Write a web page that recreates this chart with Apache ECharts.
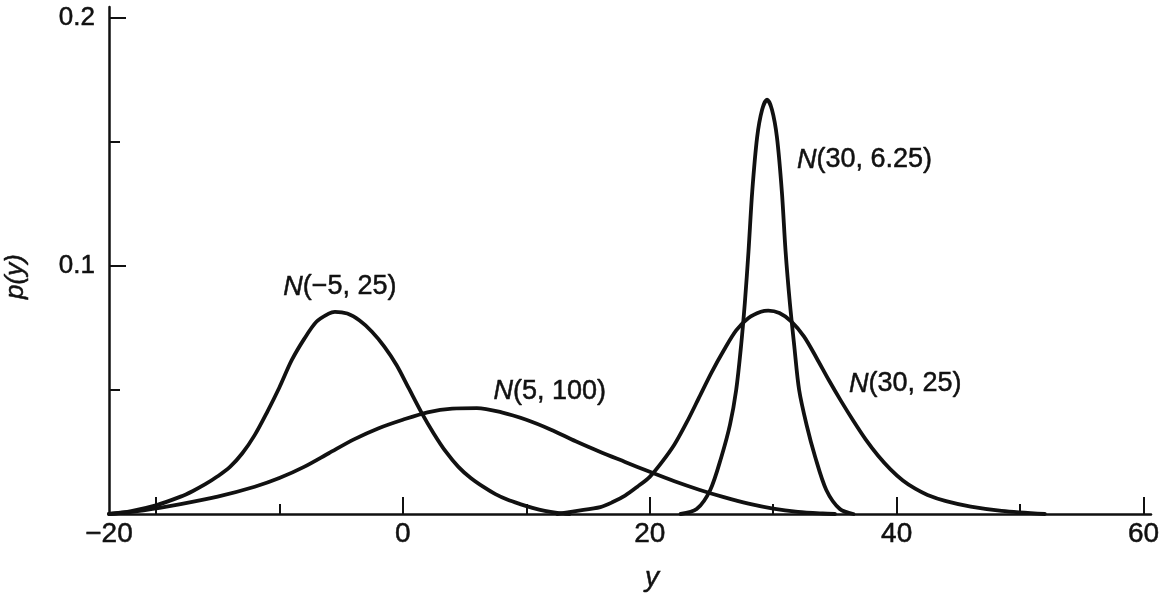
<!DOCTYPE html>
<html>
<head>
<meta charset="utf-8">
<script src="https://cdn.jsdelivr.net/npm/echarts@6/dist/echarts.min.js"></script>
<style>
  html, body { margin: 0; padding: 0; background: #fff; }
  #main { width: 1169px; height: 598px; }
</style>
</head>
<body>
<div id="main"></div>
<script type="text/javascript">
// values, [y, p(y)]
var curveA = [ // N(-5, 25)
  [-23.8, 0], [-22, 0.0012], [-20, 0.0035], [-18, 0.007], [-17, 0.0093], [-16, 0.012],
  [-15, 0.0152], [-14, 0.019], [-13, 0.0245], [-12, 0.0318], [-11, 0.041], [-10, 0.051],
  [-9, 0.062], [-8, 0.0705], [-7, 0.0775], [-6, 0.0808], [-5.5, 0.0815], [-4.5, 0.0808],
  [-3.5, 0.078], [-2.5, 0.0735], [-1.5, 0.0675], [-0.5, 0.060], [0.5, 0.0505], [1.5, 0.041],
  [2.5, 0.0325], [3.5, 0.025], [4.5, 0.019], [5.5, 0.0145], [6.5, 0.011], [7.5, 0.008],
  [8.5, 0.0057], [9.5, 0.004], [10.5, 0.0025], [11.5, 0.0013], [12.5, 0.0005], [13.5, 0]
];
var curveB = [ // N(5, 100)
  [-23.8, 0], [-21, 0.0015], [-18, 0.004], [-15, 0.007], [-12, 0.011], [-10, 0.0145],
  [-8, 0.019], [-6, 0.0245], [-4, 0.030], [-2, 0.0345], [0, 0.038], [2, 0.041],
  [4, 0.0425], [6, 0.0427], [8, 0.041], [10, 0.038], [12, 0.034], [14, 0.0293],
  [16, 0.025], [18, 0.021], [20, 0.017], [22, 0.0132], [24, 0.0098], [26, 0.0068],
  [28, 0.0042], [30, 0.0022], [32, 0.0009], [34, 0.0002], [35, 0]
];
var curveC = [ // N(30, 6.25)
  [22.5, 0], [23.8, 0.002], [24.9, 0.0097], [25.8, 0.023], [26.5, 0.036], [27.0, 0.050],
  [27.4, 0.068], [27.7, 0.085], [28.0, 0.106], [28.3, 0.130], [28.7, 0.152], [29.1, 0.163],
  [29.5, 0.167], [29.9, 0.163], [30.3, 0.152], [30.7, 0.130], [31.0, 0.106], [31.35, 0.085],
  [31.7, 0.068], [32.1, 0.050], [32.7, 0.036], [33.4, 0.023], [34.3, 0.0097], [35.4, 0.002], [36.5, 0]
];
var curveD = [ // N(30, 25)
  [12.5, 0], [14, 0.0012], [16, 0.0028], [17, 0.0048], [18, 0.0074], [19, 0.011],
  [20, 0.015], [21, 0.021], [22, 0.028], [23, 0.037], [24, 0.047], [25, 0.057],
  [26, 0.066], [27, 0.074], [28, 0.079], [29, 0.0815], [29.6, 0.082], [30.5, 0.081],
  [31.5, 0.0775], [32.5, 0.0715], [33.5, 0.063], [34.5, 0.054], [35.5, 0.0455], [36.5, 0.0375],
  [37.5, 0.030], [38.5, 0.0235], [39.5, 0.018], [40.5, 0.0135], [41.5, 0.0102], [42.5, 0.0077],
  [44, 0.0052], [46, 0.003], [48.5, 0.0013], [52, 0]
];

var curveNames = ['{n|N}(\u22125, 25)', '{n|N}(5, 100)', '{n|N}(30, 6.25)', '{n|N}(30, 25)'];
var labelAt = [[-5.1, 0.0915], [11.9, 0.0492], [37.4, 0.1427], [40.7, 0.0524]];

var xMajorTicks = [-20, 0, 20, 40, 60];
var xMinorTicks = [-10, 10, 30, 50];
var xLabels = [-23.8, 0, 20, 40, 60];
var yMajorTicks = [0.1, 0.2];
var yMinorTicks = [0.05, 0.15];

var font = "'Liberation Sans', Arial, sans-serif";
var ink = '#111';

var myChart = echarts.init(document.getElementById('main'), null, { renderer: 'canvas' });

function curve(data, i) {
    return {
        type: 'line',
        data: data,
        showSymbol: false,
        smooth: 0.3,
        lineStyle: { color: ink, width: 3.8, cap: 'round', join: 'round' },
        silent: true,
        markPoint: {
            symbol: 'circle',
            symbolSize: 1,
            itemStyle: { color: 'rgba(0,0,0,0)' },
            label: {
                show: true,
                position: 'inside',
                formatter: curveNames[i],
                color: ink,
                fontFamily: font,
                fontSize: 27,
                textBorderColor: ink,
                textBorderWidth: 0.5,
                rich: { n: { fontStyle: 'italic', fontSize: 27, fontFamily: font, color: ink, textBorderColor: ink, textBorderWidth: 0.5 } }
            },
            data: [{ coord: labelAt[i] }]
        }
    };
}

option = {
    animation: false,
    backgroundColor: '#fff',
    grid: { left: 109, right: 18, top: 7, bottom: 84, outerBoundsMode: 'none' },
    xAxis: [
        {
            type: 'value',
            min: -23.8,
            max: 60.6,
            name: 'y',
            nameLocation: 'middle',
            nameGap: 50,
            nameTextStyle: { fontStyle: 'italic', fontSize: 28, fontFamily: font, color: ink, padding: [0, 0, 0, 44], textBorderColor: ink, textBorderWidth: 0.5 },
            axisLine: { show: true, onZero: false, lineStyle: { color: ink, width: 2.5 } },
            axisTick: { show: true, inside: true, length: 17, lineStyle: { color: ink, width: 2 }, customValues: xMajorTicks },
            axisLabel: {
                show: true, margin: 6, color: ink, fontSize: 28, fontFamily: font,
                textBorderColor: ink, textBorderWidth: 0.5,
                customValues: xLabels,
                formatter: function (v) { return v < -20 ? '\u221220' : String(v); }
            },
            splitLine: { show: false }
        },
        {
            type: 'value',
            min: -23.8,
            max: 60.6,
            position: 'bottom',
            axisLine: { show: false, onZero: false },
            axisTick: { show: true, inside: true, length: 10, lineStyle: { color: ink, width: 2 }, customValues: xMinorTicks },
            axisLabel: { show: false },
            splitLine: { show: false }
        }
    ],
    yAxis: [
        {
            type: 'value',
            min: 0,
            max: 0.2044,
            name: 'p(y)',
            nameLocation: 'middle',
            nameGap: 80,
            nameRotate: 90,
            nameTextStyle: { fontStyle: 'italic', fontSize: 26, fontFamily: font, color: ink, padding: [0, 32, 0, 0], textBorderColor: ink, textBorderWidth: 0.5 },
            axisLine: { show: true, onZero: false, lineStyle: { color: ink, width: 2.5 } },
            axisTick: { show: true, inside: true, length: 17, lineStyle: { color: ink, width: 2 }, customValues: yMajorTicks },
            axisLabel: {
                show: true, margin: 14, color: ink, fontSize: 26, fontFamily: font,
                textBorderColor: ink, textBorderWidth: 0.5,
                customValues: yMajorTicks,
                padding: [18, 0, 0, 0]
            },
            splitLine: { show: false }
        },
        {
            type: 'value',
            min: 0,
            max: 0.2044,
            position: 'left',
            axisLine: { show: false, onZero: false },
            axisTick: { show: true, inside: true, length: 11, lineStyle: { color: ink, width: 2 }, customValues: yMinorTicks },
            axisLabel: { show: false },
            splitLine: { show: false }
        }
    ],
    series: [curve(curveA, 0), curve(curveB, 1), curve(curveC, 2), curve(curveD, 3)]
};

myChart.setOption(option);
</script>
</body>
</html>
